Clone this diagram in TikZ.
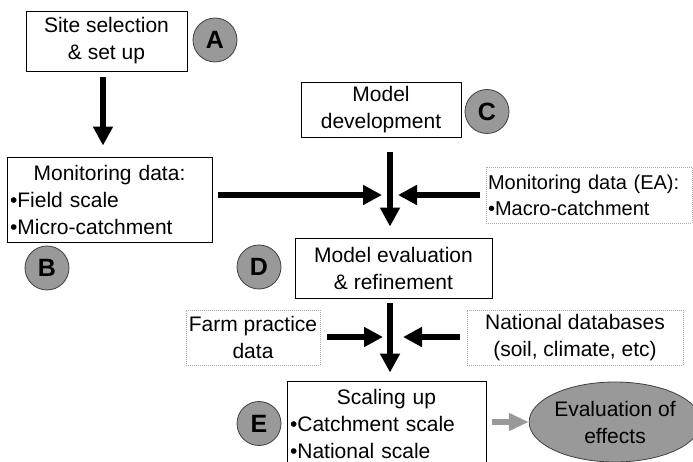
\documentclass[tikz,border=0pt]{standalone}
\usepackage{fontspec}
\setmainfont{Liberation Sans}
\usetikzlibrary{arrows.meta,shapes.geometric}
\definecolor{circfill}{HTML}{999999}
\definecolor{dotgray}{HTML}{AAAAAA}
\definecolor{arrgray}{HTML}{999999}
\begin{document}
\begin{tikzpicture}[x=1pt,y=-1pt,
  txt/.style={font=\fontsize{21}{27}\selectfont},
  box/.style={txt, draw=black, line width=0.9pt, inner sep=0pt, fill=white, align=center},
  dbox/.style={txt, draw=dotgray, line width=0.8pt, dash pattern=on 1pt off 1pt, inner sep=0pt, align=center},
  tag/.style={circle, draw=black!75, line width=0.8pt, fill=circfill, minimum size=44pt, inner sep=0pt, font=\fontsize{25}{25}\selectfont\bfseries},
  arr/.style={line width=5.5pt, -{Triangle[length=19pt,width=19pt]}},
  garr/.style={draw=arrgray, line width=5.5pt, -{Triangle[length=20pt,width=17pt]}},
]
\useasboundingbox (0,0) rectangle (693,462);

% boxes
\node[box, minimum width=161pt, minimum height=60pt] (siteA) at (106.5,41) {Site selection\\\& set up};
\node[box, minimum width=205pt, minimum height=85pt, text width=199pt, align=left] (monB) at (109.5,199.5)
  {\centering Monitoring data:\par\raggedright •Field scale\\•Micro-catchment};
\node[box, minimum width=160pt, minimum height=55pt] (modC) at (381,109.5) {Model\\development};
\node[dbox, minimum width=206pt, minimum height=56pt, text width=202pt, align=left,
      font=\fontsize{20}{26}\selectfont] (monEA) at (589,195)
  {Monitoring data (EA):\\•Macro-catchment};
\node[box, minimum width=197pt, minimum height=60pt] (evalD) at (393.5,268) {Model evaluation\\\& refinement};
\node[dbox, minimum width=134pt, minimum height=55pt] (farm) at (253,337.5) {Farm practice\\data};
\node[dbox, minimum width=216pt, minimum height=55pt] (nat) at (575,337.5) {National databases\\(soil, climate, etc)};
\node[box, minimum width=199pt, minimum height=85pt, text width=193pt, align=left] (scaleE) at (386.5,423.5)
  {\centering Scaling up\par\raggedright •Catchment scale\\•National scale};
\node[txt, ellipse, draw=black!75, line width=0.8pt, fill=circfill, minimum width=144pt, minimum height=80pt, inner sep=0pt, align=center] (evalF) at (615,422) {Evaluation of\\effects};

% letter tags
\node[tag] (tA) at (215,40) {A};
\node[tag] (tB) at (47,268) {B};
\node[tag] (tC) at (487,111.5) {C};
\node[tag] (tD) at (259,267) {D};
\node[tag] (tE) at (259,423.5) {E};

% junctions
\coordinate (colA) at (103,0);
\coordinate (j1) at (390,195);
\coordinate (j2) at (390,337);

% arrows
\draw[arr, shorten <=6pt, shorten >=11pt] (colA |- siteA.south) -- (colA |- monB.north);
\draw[arr, shorten <=15pt, shorten >=11pt] (j1 |- modC.south) -- (j1 |- evalD.north);
\draw[arr, shorten <=6pt, shorten >=8pt] (monB.east |- j1) -- (j1);
\draw[arr, shorten <=6pt, shorten >=8pt] (monEA.west |- j1) -- (j1);
\draw[arr, shorten <=5pt, shorten >=8pt] (j2 |- evalD.south) -- (j2 |- scaleE.north);
\draw[arr, shorten <=7pt, shorten >=7pt] (farm.east |- j2) -- (j2);
\draw[arr, shorten <=7pt, shorten >=13pt] (nat.west |- j2) -- (j2);
\draw[garr, shorten <=6pt] (scaleE.east |- evalF.west) -- (evalF.west);
\end{tikzpicture}
\end{document}
